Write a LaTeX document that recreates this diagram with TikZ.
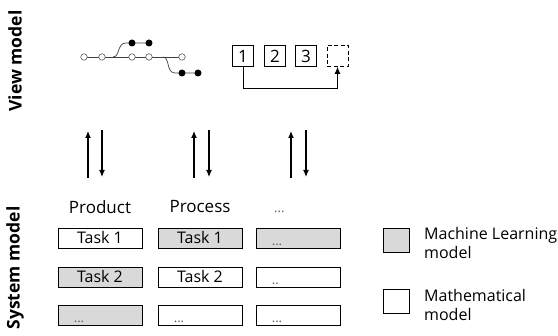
\documentclass[tikz,border=0pt]{standalone}
\usepackage{fontspec}
\setmainfont{Open Sans}
\usetikzlibrary{arrows.meta,calc}
\begin{document}
\begin{tikzpicture}[x=1pt,y=-1pt,
  lbl/.style={font=\fontsize{17}{20}\selectfont, inner sep=0pt},
  side/.style={font=\bfseries\fontsize{17.5}{20}\selectfont, rotate=90, inner sep=0pt},
  task/.style={draw, line width=0.8pt, minimum width=84pt, minimum height=20pt, inner sep=0pt, font=\fontsize{16}{18}\selectfont},
  ml/.style={task, fill=gray!30},
  mm/.style={task, fill=white},
  dots/.style={font=\fontsize{13}{15}\selectfont, text=black!65, inner sep=0pt, anchor=base west},
  sq/.style={draw, line width=0.8pt, minimum width=21pt, minimum height=21pt, inner sep=0pt, font=\fontsize{17}{19}\selectfont},
  opn/.style={circle, draw=black!65, fill=white, line width=0.6pt, minimum size=6.5pt, inner sep=0pt},
  fld/.style={circle, fill=black, minimum size=7pt, inner sep=0pt},
  gl/.style={draw=black!75, line width=0.7pt},
  va/.style={line width=1.1pt, -{Latex[length=7pt,width=6pt]}},
  leg/.style={draw, line width=0.8pt, minimum width=26pt, minimum height=24pt, inner sep=0pt},
  legt/.style={font=\fontsize{16}{19}\selectfont, align=left, anchor=west, inner sep=0pt}
]
\useasboundingbox (0,0) rectangle (558,336);

% side labels
\node[side] (vm) at (15,61) {View model};
\node[side] (sm) at (15,268) {System model};

% git graph
\coordinate (bu) at (113,57);
\coordinate (bd) at (163,57);
\draw[gl] (84,57) coordinate (m0) -- (182,57) coordinate (m5);
\draw[gl] (bu) .. controls (120,57) and (117,43) .. (126,43) -- (149,43) coordinate (u2);
\draw[gl] (bd) .. controls (170,57) and (166,73) .. (175,73) -- (198,73) coordinate (d2);
\node[opn] (o1) at (84,57) {};
\node[opn] (o2) at (102,57) {};
\node[opn] (o3) at (132,57) {};
\node[opn] (o4) at (149,57) {};
\node[opn] (o5) at (182,57) {};
\node[fld] (f1) at (132,43) {};
\node[fld] (f2) at (149,43) {};
\node[fld] (f3) at (182,73) {};
\node[fld] (f4) at (198,73) {};

% numbered boxes
\node[sq] (s1) at (243,56) {1};
\node[sq] (s2) at (275,56) {2};
\node[sq] (s3) at (306,56) {3};
\node[sq, dash pattern=on 4pt off 2.5pt] (s4) at (337.5,56) {};
\draw[line width=0.9pt, -{Latex[length=7pt,width=6pt]}] (s1.south) -- ++(0,22) -| (s4.south);

% vertical arrows
\foreach \i/\x in {1/88,2/194,3/291}{
  \coordinate (ua\i) at (\x,178);
  \coordinate (ub\i) at (\x,131);
  \draw[va] (ua\i) -- (ub\i);
}
\foreach \i/\x in {1/102,2/209,3/306}{
  \coordinate (da\i) at (\x,130);
  \coordinate (db\i) at (\x,177);
  \draw[va] (da\i) -- (db\i);
}

% column headers
\node[lbl] (h1) at (100,207) {Product};
\node[lbl] (h2) at (200,207) {Process};
\node[dots] (h3) at (274,213) {...};

% task grid
\node[mm] (t11) at (100,238) {Task 1};
\node[ml] (t12) at (200,238) {Task 1};
\node[ml] (t13) at (298,238) {};
\node[ml] (t21) at (100,277) {Task 2};
\node[mm] (t22) at (200,277) {Task 2};
\node[mm] (t23) at (298,277) {};
\node[ml] (t31) at (100,315) {};
\node[mm] (t32) at (200,315) {};
\node[mm] (t33) at (298,315) {};
\node[dots] at ([xshift=16pt,yshift=3pt]t13.south west) {...};
\node[dots] at ([xshift=16pt,yshift=3pt]t23.south west) {..};
\node[dots] at ([xshift=16pt,yshift=3pt]t31.south west) {...};
\node[dots] at ([xshift=16pt,yshift=3pt]t32.south west) {...};
\node[dots] at ([xshift=16pt,yshift=3pt]t33.south west) {...};

% legend
\node[leg, fill=gray!30] (lg1) at (396,240) {};
\node[leg, fill=white] (lg2) at (396,301.5) {};
\node[legt] (lt1) at (424,243) {Machine Learning\\model};
\node[legt] (lt2) at (424,305) {Mathematical\\model};
\end{tikzpicture}
\end{document}
